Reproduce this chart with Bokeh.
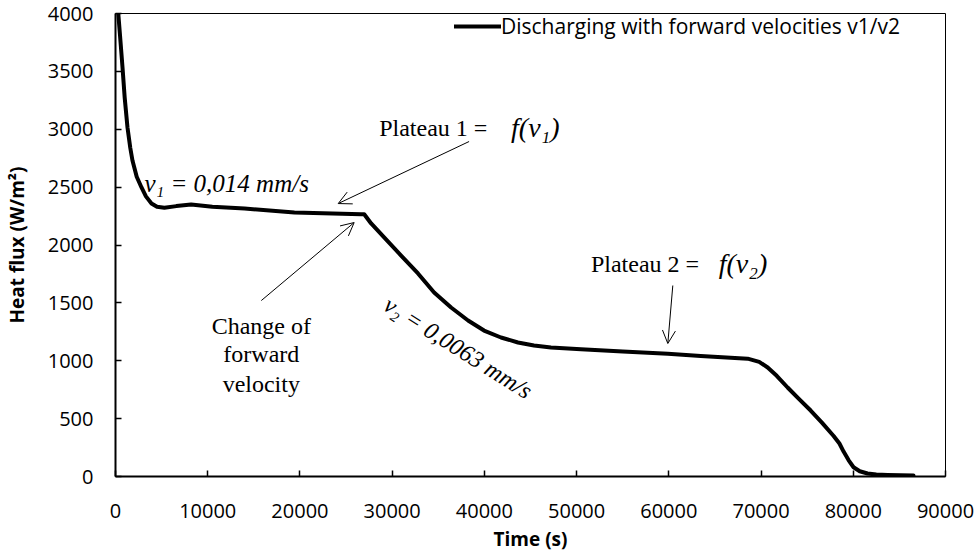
from bokeh.plotting import figure
from bokeh.models import Range1d, Arrow, OpenHead, Legend, LegendItem, FixedTicker, BasicTickFormatter
from bokeh.core.properties import value
from bokeh.embed import file_html
from bokeh.resources import INLINE

# ---- data ----
time_s = [300, 500, 760, 1000, 1300, 1600, 1840, 2300, 2820, 3300, 3900, 4500, 5300, 6600,
          8200, 10500, 14000, 19400, 26640,
          26970, 27720, 29130, 30970, 32800, 34550, 36390, 38230, 39960, 41800, 43640,
          45380, 47220, 50470, 55000, 59890, 63460, 68550, 69800, 70720, 71700, 72880,
          74100, 75380, 76600, 77870, 78500, 78950, 79500, 80030, 80700, 81550, 82500,
          83720, 86530]
heat_flux = [4000, 3800, 3534, 3270, 3015, 2840, 2730, 2590, 2497, 2420, 2359, 2330, 2322,
             2336, 2350, 2330, 2315, 2281, 2266,
             2266, 2186, 2065, 1909, 1754, 1590, 1460, 1348, 1261, 1201, 1158,
             1132, 1114, 1100, 1080, 1060, 1040, 1018, 990, 942, 870, 769,
             670, 570, 465, 350, 285, 215, 140, 80, 45, 26, 18, 14, 9]
x_ticks = [0, 10000, 20000, 30000, 40000, 50000, 60000, 70000, 80000, 90000]
y_ticks = [0, 500, 1000, 1500, 2000, 2500, 3000, 3500, 4000]
series_label = "Discharging with forward velocities v1/v2"

SANS = "Open Sans"
SERIF = "Liberation Serif"

p = figure(width=980, height=556, x_range=Range1d(0, 90000), y_range=Range1d(0, 4000),
           output_backend="svg", toolbar_location=None,
           min_border_left=114, min_border_right=35, min_border_top=13, min_border_bottom=80)
p.background_fill_color = "white"
p.border_fill_color = "white"
p.grid.visible = False
p.outline_line_color = "black"
p.outline_line_width = 1

p.xaxis.ticker = FixedTicker(ticks=x_ticks)
p.yaxis.ticker = FixedTicker(ticks=y_ticks)
for ax in (p.xaxis, p.yaxis):
    ax.formatter = BasicTickFormatter(use_scientific=False)
    ax.axis_line_width = 2
    ax.axis_line_color = "black"
    ax.major_tick_in = 6
    ax.major_tick_out = 0
    ax.major_tick_line_width = 1.5
    ax.major_tick_line_color = "black"
    ax.minor_tick_in = 0
    ax.minor_tick_out = 0
    ax.major_label_text_font = SANS
    ax.major_label_text_font_size = "20px"
    ax.major_label_text_color = "black"
    ax.axis_label_text_font = SANS
    ax.axis_label_text_font_size = "19px"
    ax.axis_label_text_font_style = "bold"
    ax.axis_label_text_color = "black"

p.xaxis.axis_label = "Time (s)"
p.yaxis.axis_label = "Heat flux (W/m²)"
p.xaxis.major_label_standoff = 27
p.yaxis.major_label_standoff = 22
p.xaxis.axis_label_standoff = 5
p.yaxis.axis_label_standoff = 15

r = p.line(time_s, heat_flux, line_width=4, line_color="black", line_join="round", line_cap="round")

legend = Legend(items=[LegendItem(label=series_label, renderers=[r])],
                location=(339, 436), border_line_color=None, background_fill_alpha=0,
                glyph_width=47, glyph_height=20, label_standoff=0, padding=0, spacing=0, margin=0,
                label_text_font=SANS, label_text_font_size="21px", label_text_color="black")
p.add_layout(legend)

# ---- annotations ----
def txt(x, y, s, size="24px", style="normal", align="left", angle=0.0):
    p.text(x=[x], y=[y], text=[s], text_font=value(SERIF), text_font_size=size,
           text_font_style=style, text_align=align, text_baseline="middle",
           text_color="black", angle=angle)

txt(3140, 2535, "v₁ = 0,014 mm/s", size="25px", style="italic")
txt(28590, 3015, "Plateau 1 =")
txt(42890, 3015, "f(v₁)", size="28px", style="italic")
txt(15810, 1296, "Change of", align="center")
txt(15810, 1054, "forward", align="center")
txt(15810, 803, "velocity", align="center")
txt(37150, 1114, "v₂ = 0,0063 mm/s", size="24px", style="italic", align="center", angle=-0.564)
txt(51550, 1840, "Plateau 2 =")
txt(65410, 1840, "f(v₂)", size="28px", style="italic")

def arrow(x0, y0, x1, y1):
    p.add_layout(Arrow(end=OpenHead(size=13, line_width=1, line_color="black"),
                       x_start=x0, y_start=y0, x_end=x1, y_end=y1,
                       line_width=1, line_color="black"))

arrow(38340, 2894, 24150, 2358)
arrow(15810, 1520, 25880, 2194)
arrow(60430, 1650, 59890, 1149)

open("out.html", "w").write(file_html(p, INLINE))
